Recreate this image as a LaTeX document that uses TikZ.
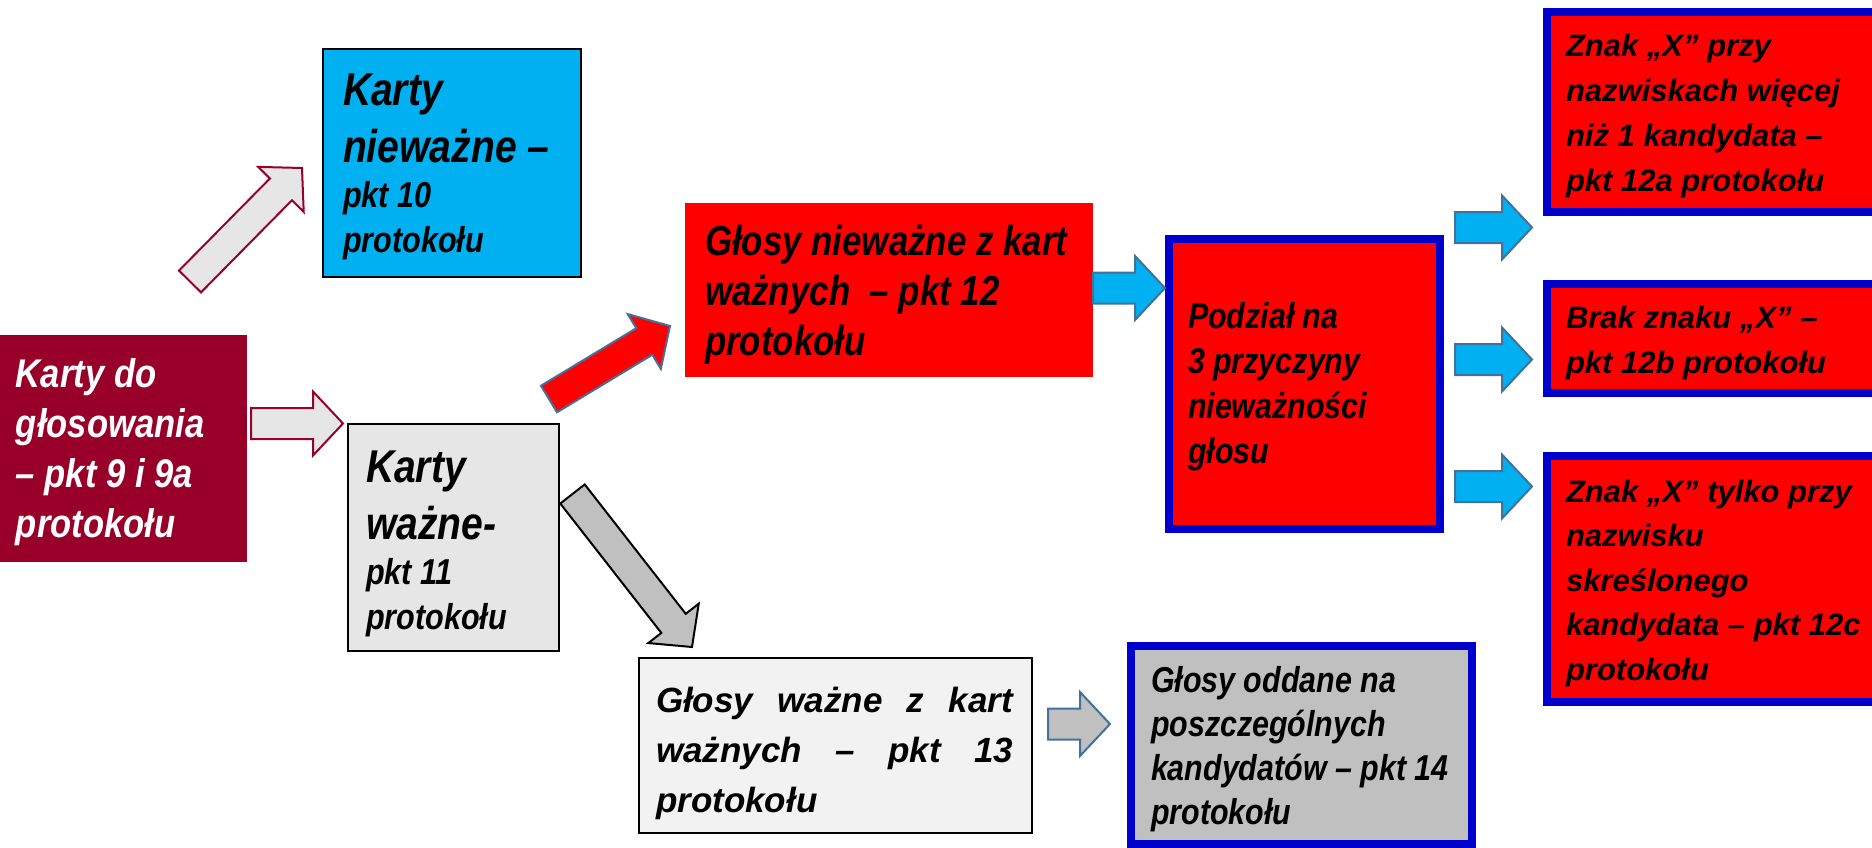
\documentclass[tikz,border=0pt]{standalone}
\usepackage{fontspec}
\usepackage{graphicx}
\newfontfamily\boxface{Liberation Sans}
\usetikzlibrary{calc, positioning}
\definecolor{maroon}{RGB}{153,0,41}
\definecolor{skyblue}{RGB}{0,176,240}
\definecolor{steel}{RGB}{65,113,156}
\definecolor{frameblue}{RGB}{0,0,204}
\definecolor{lightgrey}{RGB}{230,230,230}
\definecolor{palegrey}{RGB}{242,242,242}
\definecolor{midgrey}{RGB}{192,192,192}
\hyphenpenalty=10000
\tikzset{
  box/.style={rectangle, anchor=north west, inner sep=0pt, outer sep=0pt},
  thinbox/.style={box, draw=black, line width=2pt},
  bluebox/.style={box, draw=frameblue, line width=8pt, fill=red},
  greyarrow/.style={fill=lightgrey, draw=maroon},
  cyanarrow/.style={fill=skyblue, draw=steel}
}
% left gap, x-scale, width, height, first baseline, text
\newcommand{\boxtext}[6]{\hspace*{#1}\scalebox{#2}[1]{\parbox[c][#4][t]{#3}{\rule{0pt}{#5}#6}}}
\newcommand{\blockarrow}[3][]{%
  \coordinate (ba) at ($(#3)!30pt!(#2)$);
  \draw[line width=2pt, #1] ($(#2)!15.5pt!90:(#3)$) -- ($(ba)!15.5pt!90:(#3)$)
    -- ($(ba)!32pt!90:(#3)$) -- (#3) -- ($(ba)!32pt!-90:(#3)$)
    -- ($(ba)!15.5pt!-90:(#3)$) -- ($(#2)!15.5pt!-90:(#3)$) -- cycle;}
\begin{document}
\begin{tikzpicture}[x=1pt, y=-1pt]
  \useasboundingbox (0,0) rectangle (1872,848);
  \clip (0,0) rectangle (1872,848);

  \node[box, fill=maroon, text=white, font=\boxface\bfseries\itshape\fontsize{40}{50}\selectfont] (cards) at (0,335)
    {\boxtext{16pt}{0.865}{267pt}{227pt}{52pt}{Karty do\\ głosowania\\ – pkt 9 i 9a\\ protokołu}};
  \node[thinbox, fill=skyblue, font=\boxface\bfseries\itshape] (invalid) at (323,49)
    {\boxtext{20pt}{0.85}{280pt}{228pt}{57pt}{{\fontsize{46}{57}\selectfont Karty\\ nieważne –\par}{\fontsize{36}{45}\selectfont pkt 10\\ protokołu\par}}};
  \node[thinbox, fill=lightgrey, font=\boxface\bfseries\itshape] (valid) at (348,424)
    {\boxtext{18pt}{0.85}{227pt}{227pt}{58pt}{{\fontsize{46}{57}\selectfont Karty\\ ważne-\par}{\fontsize{36}{45}\selectfont pkt 11\\ protokołu\par}}};
  \node[box, fill=red, font=\boxface\bfseries\itshape\fontsize{42}{50}\selectfont] (nvotes) at (685,203)
    {\boxtext{20pt}{0.83}{467pt}{174pt}{52pt}{Głosy nieważne z kart\\ ważnych\ \ – pkt 12\\ protokołu}};
  \node[bluebox, font=\boxface\bfseries\itshape\fontsize{36}{45}\selectfont] (split) at (1169,239)
    {\boxtext{19pt}{0.845}{298pt}{290pt}{89pt}{Podział na\\ 3 przyczyny\\ nieważności\\ głosu}};
  \node[bluebox, font=\boxface\bfseries\itshape\fontsize{31}{45}\selectfont] (reasonA) at (1547,12)
    {\boxtext{19pt}{1}{330pt}{200pt}{45pt}{Znak „X” przy\\ nazwiskach więcej\\ niż 1 kandydata –\\ pkt 12a protokołu}};
  \node[bluebox, font=\boxface\bfseries\itshape\fontsize{31}{45}\selectfont] (reasonB) at (1547,284)
    {\boxtext{19pt}{1}{330pt}{109pt}{44pt}{Brak znaku „X” –\\ pkt 12b protokołu}};
  \node[bluebox, font=\boxface\bfseries\itshape\fontsize{31}{44.5}\selectfont] (reasonC) at (1547,456)
    {\boxtext{19pt}{1}{330pt}{246pt}{46pt}{Znak „X” tylko przy\\ nazwisku\\ skreślonego\\ kandydata – pkt 12c\\ protokołu}};
  \node[thinbox, fill=palegrey, font=\boxface\bfseries\itshape\fontsize{35}{50}\selectfont] (vvotes) at (639,658)
    {\boxtext{17pt}{1}{357pt}{175pt}{54pt}{Głosy ważne z kart\linebreak ważnych – pkt 13\linebreak protokołu}\hspace*{19pt}};
  \node[bluebox, fill=midgrey, font=\boxface\bfseries\itshape\fontsize{36}{44}\selectfont] (percand) at (1131,646)
    {\boxtext{20pt}{0.845}{380pt}{198pt}{46pt}{Głosy oddane na\\ poszczególnych\\ kandydatów – pkt 14\\ protokołu}};

  \coordinate (toinvalid-s) at (190,281.5);
  \coordinate (toinvalid-e) at (302,168);
  \coordinate (tovalid-s) at (251,423.5);
  \coordinate (tovalid-e) at (343,423.5);
  \coordinate (tonvotes-s) at (549,399);
  \coordinate (tonvotes-e) at (670,326);
  \coordinate (tovvotes-s) at (572.5,494);
  \coordinate (tovvotes-e) at (692,647);
  \coordinate (tosplit-s) at (1093,288);
  \coordinate (tosplit-e) at (1165,288);
  \coordinate (topercand-s) at (1048,724);
  \coordinate (topercand-e) at (1110,724);

  \blockarrow[greyarrow]{toinvalid-s}{toinvalid-e}
  \blockarrow[greyarrow]{tovalid-s}{tovalid-e}
  \blockarrow[fill=red, draw=steel]{tonvotes-s}{tonvotes-e}
  \blockarrow[fill=midgrey, draw=black]{tovvotes-s}{tovvotes-e}
  \blockarrow[cyanarrow]{tosplit-s}{tosplit-e}
  \blockarrow[fill=midgrey, draw=steel]{topercand-s}{topercand-e}
  \foreach \y in {227.5, 359.5, 486.5}
    \blockarrow[cyanarrow]{1455,\y}{1532,\y};
\end{tikzpicture}
\end{document}
